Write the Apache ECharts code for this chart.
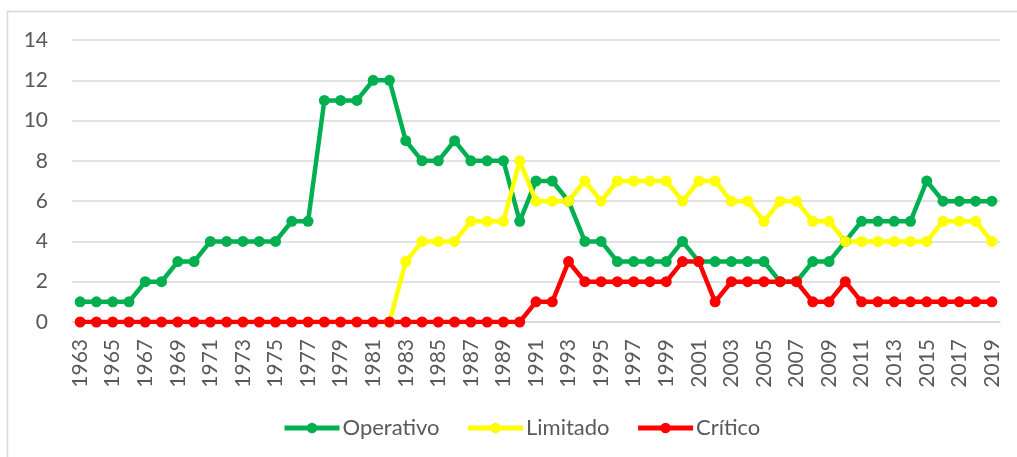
<!DOCTYPE html>
<html lang="es">
<head>
    <meta charset="UTF-8">
    <title>Estado por año</title>
    <script src="https://cdn.jsdelivr.net/npm/echarts@6/dist/echarts.min.js"></script>
    <style>
        html, body { margin: 0; padding: 0; background: #fff; }
        #main { width: 1017px; height: 457px; }
    </style>
</head>
<body>
<div id="main"></div>
<script type="text/javascript">
    // años 1963 - 2019
    var years = [];
    for (var y = 1963; y <= 2019; y++) {
        years.push(String(y));
    }

    var operativo = [1, 1, 1, 1, 2, 2, 3, 3, 4, 4, 4, 4, 4, 5, 5, 11, 11, 11, 12, 12,
        9, 8, 8, 9, 8, 8, 8, 5, 7, 7, 6, 4, 4, 3, 3, 3, 3, 4, 3, 3,
        3, 3, 3, 2, 2, 3, 3, 4, 5, 5, 5, 5, 7, 6, 6, 6, 6];

    var limitado = [null, null, null, null, null, null, null, null, null, null,
        null, null, null, null, null, null, null, null, null, 0,
        3, 4, 4, 4, 5, 5, 5, 8, 6, 6, 6, 7, 6, 7, 7, 7, 7, 6, 7, 7,
        6, 6, 5, 6, 6, 5, 5, 4, 4, 4, 4, 4, 4, 5, 5, 5, 4];

    var critico = [0, 0, 0, 0, 0, 0, 0, 0, 0, 0, 0, 0, 0, 0, 0, 0, 0, 0, 0, 0,
        0, 0, 0, 0, 0, 0, 0, 0, 1, 1, 3, 2, 2, 2, 2, 2, 2, 3, 3, 1,
        2, 2, 2, 2, 2, 1, 1, 2, 1, 1, 1, 1, 1, 1, 1, 1, 1];

    var yTicks = { min: 0, max: 14, interval: 2 };

    var fontName = 'Lato, "Open Sans", sans-serif';
    var textColor = '#595959';

    function lineSeries(name, data, color) {
        return {
            name: name,
            type: 'line',
            data: data,
            symbol: 'circle',
            symbolSize: 11,
            showAllSymbol: true,
            connectNulls: false,
            lineStyle: { width: 4.5, color: color },
            itemStyle: { color: color },
            emphasis: { disabled: true }
        };
    }

    var myChart = echarts.init(document.getElementById('main'));

    var option = {
        animation: false,
        textStyle: { fontFamily: fontName },
        grid: { left: 72, right: 17, top: 40, bottom: 135, containLabel: false },
        graphic: [{
            type: 'rect',
            shape: { x: 7.5, y: 11.5, width: 1200, height: 600 },
            style: { fill: 'none', stroke: '#d9d9d9', lineWidth: 1.5 },
            silent: true
        }],
        legend: {
            bottom: 13,
            left: 277,
            itemWidth: 55,
            itemHeight: 13,
            itemGap: 26,
            lineStyle: { width: 5 },
            textStyle: { fontSize: 22, color: textColor, fontFamily: fontName, padding: [0, 0, 0, -2] },
            data: ['Operativo', 'Limitado', 'Crítico']
        },
        xAxis: {
            type: 'category',
            data: years,
            boundaryGap: true,
            axisLine: { show: true, lineStyle: { color: '#d9d9d9', width: 1.5 } },
            axisTick: { show: false },
            axisLabel: {
                rotate: 90,
                interval: 1,
                margin: 17,
                fontSize: 21,
                color: textColor,
                fontFamily: fontName
            }
        },
        yAxis: {
            type: 'value',
            min: yTicks.min,
            max: yTicks.max,
            interval: yTicks.interval,
            axisLine: { show: false },
            axisTick: { show: false },
            splitLine: { lineStyle: { color: '#d9d9d9', width: 1.5 } },
            axisLabel: { margin: 24, fontSize: 21, color: textColor, fontFamily: fontName }
        },
        series: [
            lineSeries('Operativo', operativo, '#00B050'),
            lineSeries('Limitado', limitado, '#FFFF00'),
            lineSeries('Crítico', critico, '#FF0000')
        ]
    };

    myChart.setOption(option);
</script>
</body>
</html>
